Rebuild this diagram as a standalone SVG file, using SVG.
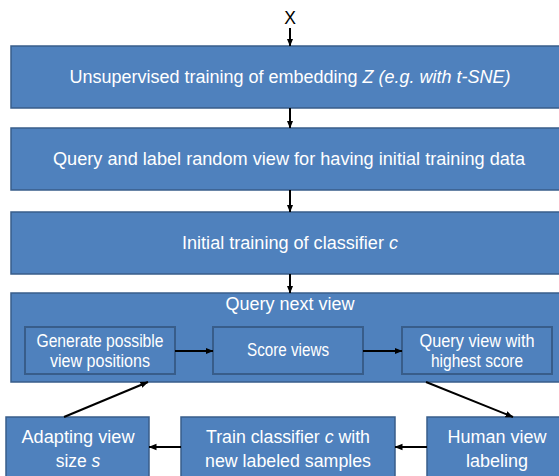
<svg xmlns="http://www.w3.org/2000/svg" width="559" height="476" viewBox="0 0 559 476">
<style>
.box{fill:#4F81BD;stroke:#385D8A;stroke-width:1.5}
.inner{fill:#4F81BD;stroke:#385D8A;stroke-width:2}
.t{font-family:"Liberation Sans",Arial,sans-serif;font-size:17.5px;fill:#FFFFFF;text-anchor:middle}
.k{font-family:"Liberation Sans",Arial,sans-serif;font-size:17.5px;fill:#000;text-anchor:middle}
.i{font-style:italic}
.a{stroke:#000;stroke-width:2;fill:none;marker-end:url(#ah)}
</style>
<defs>
<marker id="ah" markerUnits="userSpaceOnUse" markerWidth="8" markerHeight="8" viewBox="0 0 8 8" refX="7.5" refY="4" orient="auto">
<path d="M0,0.8 L8,4 L0,7.2 Z" fill="#000"/>
</marker>
</defs>
<g id="input">
<text class="k" x="290" y="24">X</text>
</g>
<g id="n1">
<rect class="box" x="11" y="46" width="558" height="62"/>
<text class="t" x="290" y="83" textLength="441" lengthAdjust="spacingAndGlyphs">Unsupervised training of embedding <tspan class="i">Z (e.g. with t-SNE)</tspan></text>
</g>
<g id="n2">
<rect class="box" x="11" y="128" width="558" height="62"/>
<text class="t" x="289" y="165" textLength="472" lengthAdjust="spacingAndGlyphs">Query and label random view for having initial training data</text>
</g>
<g id="n3">
<rect class="box" x="11" y="212" width="558" height="62"/>
<text class="t" x="290" y="249" textLength="216" lengthAdjust="spacingAndGlyphs">Initial training of classifier <tspan class="i">c</tspan></text>
</g>
<g id="n4">
<rect class="box" x="11" y="293" width="558" height="89"/>
<text class="t" x="290" y="310" textLength="129" lengthAdjust="spacingAndGlyphs">Query next view</text>
</g>
<g id="n4a">
<rect class="inner" x="25" y="327" width="150" height="47"/>
<text class="t" x="100" y="347" textLength="127" lengthAdjust="spacingAndGlyphs">Generate possible</text>
<text class="t" x="100" y="367" textLength="100" lengthAdjust="spacingAndGlyphs">view positions</text>
</g>
<g id="n4b">
<rect class="inner" x="213" y="327" width="150" height="47"/>
<text class="t" x="288" y="356" textLength="82" lengthAdjust="spacingAndGlyphs">Score views</text>
</g>
<g id="n4c">
<rect class="inner" x="402" y="327" width="150" height="47"/>
<text class="t" x="477" y="347" textLength="115" lengthAdjust="spacingAndGlyphs">Query view with</text>
<text class="t" x="477" y="367" textLength="92" lengthAdjust="spacingAndGlyphs">highest score</text>
</g>
<g id="n5">
<rect class="box" x="6" y="417" width="143" height="70"/>
<text class="t" x="78" y="443" textLength="113" lengthAdjust="spacingAndGlyphs">Adapting view</text>
<text class="t" x="78" y="467">size <tspan class="i">s</tspan></text>
</g>
<g id="n6">
<rect class="box" x="181" y="417" width="214" height="70"/>
<text class="t" x="288" y="443" textLength="164" lengthAdjust="spacingAndGlyphs">Train classifier <tspan class="i">c</tspan> with</text>
<text class="t" x="288" y="467" textLength="166" lengthAdjust="spacingAndGlyphs">new labeled samples</text>
</g>
<g id="n7">
<rect class="box" x="427" y="417" width="142" height="70"/>
<text class="t" x="497" y="443" textLength="99" lengthAdjust="spacingAndGlyphs">Human view</text>
<text class="t" x="497" y="467" textLength="62" lengthAdjust="spacingAndGlyphs">labeling</text>
</g>
<g id="connectors">
<line class="a" x1="290" y1="28" x2="290" y2="46"/>
<line class="a" x1="290" y1="108" x2="290" y2="128"/>
<line class="a" x1="290" y1="190" x2="290" y2="212"/>
<line class="a" x1="290" y1="274" x2="290" y2="293"/>
<line class="a" x1="175" y1="351" x2="213" y2="351"/>
<line class="a" x1="363" y1="351" x2="402" y2="351"/>
<line class="a" x1="426" y1="382" x2="513" y2="417"/>
<line class="a" x1="427" y1="447" x2="395" y2="447"/>
<line class="a" x1="181" y1="447" x2="149" y2="447"/>
<line class="a" x1="64" y1="417" x2="148" y2="382"/>
</g>
</svg>
